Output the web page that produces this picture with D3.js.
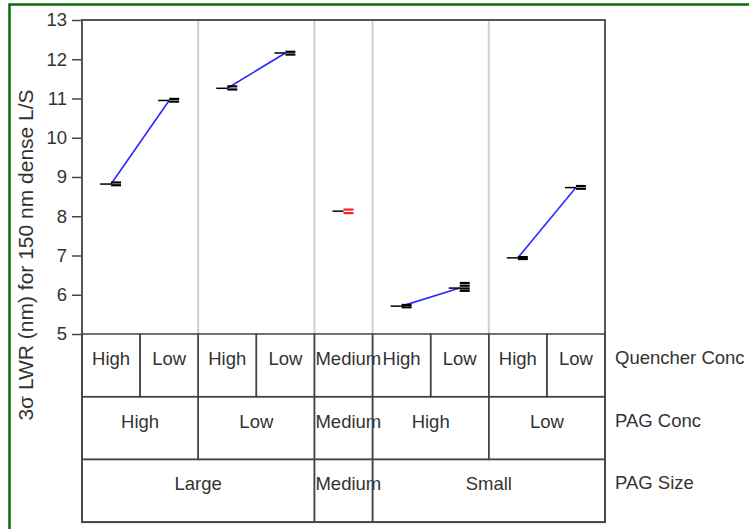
<!DOCTYPE html>
<html>
<head>
<meta charset="utf-8">
<script src="https://cdn.jsdelivr.net/npm/d3@7"></script>
<style>
  body { margin: 0; background: #fff; }
  text { font-family: "Liberation Sans", Arial, sans-serif; fill: #333; }
</style>
</head>
<body>
<div id="vis-container"></div>
<script>
// leaf columns of the table (Quencher Conc), left to right
const quencher = ["High", "Low", "High", "Low", "Medium", "High", "Low", "High", "Low"];
// PAG Conc spans: [label, first leaf, last leaf]
const pagConc = [["High", 0, 1], ["Low", 2, 3], ["Medium", 4, 4], ["High", 5, 6], ["Low", 7, 8]];
// PAG Size spans
const pagSize = [["Large", 0, 3], ["Medium", 4, 4], ["Small", 5, 8]];
const rowLabels = ["Quencher Conc", "PAG Conc", "PAG Size"];

// measured 3-sigma LWR per leaf: mean and replicate values
const means = [8.82, 10.95, 11.26, 12.16, 8.13, 5.71, 6.17, 6.94, 8.73];
const reps = [
  [8.79, 8.86], [10.92, 10.99], [11.23, 11.31], [12.12, 12.19],
  [8.08, 8.17], [5.68, 5.74], [6.10, 6.16, 6.23, 6.30], [6.91, 6.96], [8.70, 8.77]
];
const yTicks = [5, 6, 7, 8, 9, 10, 11, 12, 13];

let width = 749, height = 529;
let margins = { top: 20, left: 82, right: 144 };
let plotBottom = 334;
let rowH = 62.7;

let svg = d3.select("#vis-container").append("svg").attr("width", width).attr("height", height);

// green frame (open at right and bottom)
svg.append("path").attr("d", "M9.5,529 L9.5,4.5 L749,4.5")
   .attr("fill", "none").attr("stroke", "#0b6b0b").attr("stroke-width", 2.5);

let xScale = d3.scaleBand().domain(d3.range(quencher.length))
    .range([margins.left, width - margins.right]).padding(0);
let yScale = d3.scaleLinear().domain([5, 13]).range([plotBottom, margins.top]);
let bw = xScale.bandwidth();
let x0 = margins.left, x1 = width - margins.right;

// light group separators in the plot
let groupEdges = [2, 4, 5, 7];
svg.append("g").selectAll("line").data(groupEdges).enter().append("line")
   .attr("x1", d => xScale(d)).attr("x2", d => xScale(d))
   .attr("y1", margins.top).attr("y2", plotBottom)
   .attr("stroke", "#cfcfcf").attr("stroke-width", 2);

// y axis
let yAxis = svg.append("g").attr("transform", "translate(" + x0 + ",0)")
   .call(d3.axisLeft(yScale).tickValues(yTicks).tickSize(10).tickPadding(5));
yAxis.select(".domain").remove();
yAxis.selectAll(".tick line").attr("stroke", "#444").attr("stroke-width", 1.5);
yAxis.selectAll(".tick text").style("font-size", "18.5px").style("fill", "#333")
   .style("font-family", "Liberation Sans, Arial, sans-serif");

svg.append("text").attr("transform", "translate(33,255) rotate(-90)")
   .attr("text-anchor", "middle").style("font-size", "21px")
   .text("3σ LWR (nm) for 150 nm dense L/S");

// plot + table frame
let tableBottom = plotBottom + 3 * rowH;
svg.append("rect").attr("x", x0).attr("y", margins.top).attr("width", x1 - x0)
   .attr("height", tableBottom - margins.top)
   .attr("fill", "none").attr("stroke", "#555").attr("stroke-width", 2);

// blue lines connecting means in each PAG Conc group
let lineGen = d3.line().x(i => xScale(i) + bw / 2).y(i => yScale(means[i]));
pagConc.forEach(g => {
  if (g[2] > g[1]) {
    svg.append("path").attr("d", lineGen(d3.range(g[1], g[2] + 1)))
       .attr("fill", "none").attr("stroke", "#2a2aff").attr("stroke-width", 1.6);
  }
});

// mean ticks and replicate dashes
let pts = svg.append("g");
means.forEach((m, i) => {
  let cx = xScale(i) + bw / 2;
  let col = quencher[i] === "Medium" ? "#ff2020" : "#000";
  pts.append("line").attr("x1", cx - 11).attr("x2", cx).attr("y1", yScale(m)).attr("y2", yScale(m))
     .attr("stroke", "#000").attr("stroke-width", 1.5);
  pts.selectAll(null).data(reps[i]).enter().append("line")
     .attr("x1", cx).attr("x2", cx + 10)
     .attr("y1", d => yScale(d)).attr("y2", d => yScale(d))
     .attr("stroke", col).attr("stroke-width", 2.2);
});

// table
let table = svg.append("g");
function cell(label, a, b, row) {
  let xa = xScale(a), xb = xScale(b) + bw;
  let ya = plotBottom + row * rowH;
  table.append("rect").attr("x", xa).attr("y", ya).attr("width", xb - xa).attr("height", rowH)
     .attr("fill", "none").attr("stroke", "#444").attr("stroke-width", 1.5);
  let t = table.append("text").attr("y", ya + rowH / 2 - 0.5).style("font-size", "18.5px").text(label);
  let w = t.node().getComputedTextLength();
  t.attr("x", Math.max(xa + 1, (xa + xb) / 2 - w / 2));
}
quencher.forEach((q, i) => cell(q, i, i, 0));
pagConc.forEach(g => cell(g[0], g[1], g[2], 1));
pagSize.forEach(g => cell(g[0], g[1], g[2], 2));

rowLabels.forEach((r, i) => {
  table.append("text").attr("x", x1 + 10).attr("y", plotBottom + i * rowH + rowH / 2 - 1.5)
     .style("font-size", "18.5px").text(r);
});
</script>
</body>
</html>
